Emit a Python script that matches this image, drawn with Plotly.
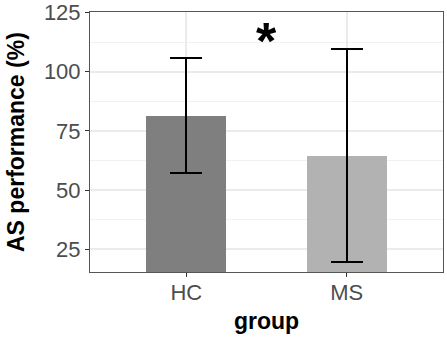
import plotly.graph_objects as go

groups = ["HC", "MS"]
means = [81.4, 64.6]
err_plus = [24.5, 45.0]
err_minus = [24.3, 44.9]
bar_colors = ["#7f7f7f", "#b2b2b2"]
y_ticks = [25, 50, 75, 100, 125]
sig_label = "*"
sig_y = 116.5
x_title = "group"
y_title = "AS performance (%)"

fig = go.Figure()
fig.add_trace(go.Bar(
    x=[1, 2], y=means, width=0.5,
    marker=dict(color=bar_colors, line=dict(width=0)),
    error_y=dict(type="data", symmetric=False, array=err_plus, arrayminus=err_minus,
                 color="black", thickness=2, width=16),
    showlegend=False, hoverinfo="skip",
))
fig.add_annotation(x=1.5, y=sig_y, text="<b>" + sig_label + "</b>", showarrow=False,
                   font=dict(size=52, color="black", family="Liberation Sans, Arial"),
                   xref="x", yref="y", yanchor="middle", yshift=-8)
fig.add_annotation(x=0.5, y=0, xref="paper", yref="paper", text="<b>" + x_title + "</b>",
                   showarrow=False, xanchor="center", yanchor="middle", yshift=-49,
                   font=dict(size=23, color="black"))
fig.add_annotation(x=0, y=0.5, xref="paper", yref="paper", text="<b>" + y_title + "</b>",
                   showarrow=False, xanchor="center", yanchor="middle", xshift=-74,
                   textangle=-90, font=dict(size=23, color="black"))

fig.update_layout(
    width=447, height=339,
    margin=dict(l=90, r=4, t=12, b=67),
    paper_bgcolor="white", plot_bgcolor="white",
    font=dict(family="Liberation Sans, Arial, sans-serif", color="#4d4d4d"),
    bargap=0,
)
fig.update_xaxes(
    range=[0.4, 2.6], tickmode="array", tickvals=[1, 2], ticktext=groups,
    showgrid=True, gridcolor="#ebebeb", gridwidth=1.5,
    showline=True, mirror=True, linecolor="#555555", linewidth=1,
    ticks="outside", ticklen=4, tickcolor="#333333",
    tickfont=dict(size=22, color="#4d4d4d"), ticklabelstandoff=-3,
    zeroline=False, automargin=False,
)
fig.update_yaxes(
    range=[15.4, 125.2], tickmode="array", tickvals=y_ticks,
    showgrid=True, gridcolor="#ebebeb", gridwidth=1.5,
    minor=dict(tickmode="array", tickvals=[37.5, 62.5, 87.5, 112.5], showgrid=True,
               gridcolor="#f2f2f2", gridwidth=1, ticks=""),
    showline=True, mirror=True, linecolor="#555555", linewidth=1,
    ticks="outside", ticklen=4, tickcolor="#333333",
    tickfont=dict(size=22, color="#4d4d4d"),
    zeroline=False, automargin=False,
)
fig.write_html("out.html", config={"displayModeBar": False},
               post_script="document.body.style.margin='0';")
